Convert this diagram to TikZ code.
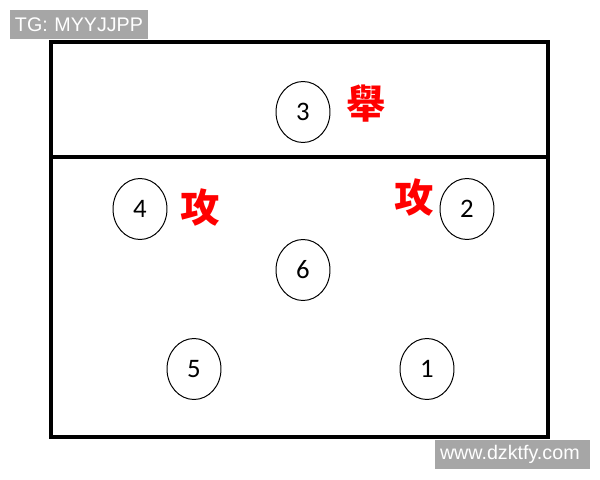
\documentclass[tikz,border=0pt]{standalone}
\usepackage{fontspec}
\setmainfont{Liberation Sans}
\newfontfamily\numfont{Carlito}
\newfontfamily\cjk{Noto Sans CJK TC}
\usepackage{tikz}
\usetikzlibrary{shapes.geometric}

\begin{document}
\begin{tikzpicture}
            [x=0.025cm, y=-0.025cm, semithick,
             player/.style={shape=ellipse, draw=black, line width=0.7pt, minimum width=54*0.025cm, minimum height=61*0.025cm, inner sep=0pt, font=\numfont\fontsize{19}{19}\selectfont},
             role/.style={text=red, font=\cjk\bfseries\fontsize{28}{28}\selectfont, inner sep=0pt},
             tag/.style={fill=black!35, text=white, inner xsep=0.125cm, inner ysep=0pt, align=left, font=\fontsize{14}{14}\selectfont}]
            \useasboundingbox (0, 0) rectangle (600, 480);
            \fill[white] (0, 0) rectangle (600, 480);

            % court
            \draw[line width=2.6pt] (51, 42) rectangle (548, 437);
            \coordinate (netl) at (51, 157);
            \coordinate (netr) at (548, 157);
            \draw[line width=2.2pt] (netl) -- (netr);

            % players
            \node[player] (p3) at (303, 112) {3};
            \node[player] (p4) at (140, 209) {4};
            \node[player] (p2) at (467, 209) {2};
            \node[player] (p6) at (303, 270) {6};
            \node[player] (p5) at (194, 369) {5};
            \node[player] (p1) at (427, 369) {1};

            \node[role] (set) at (366, 104) {舉};
            \node[role] (atk4) at (200, 207) {攻};
            \node[role] (atk2) at (414, 197) {攻};

            % labels
            \node[tag, text width=128*0.025cm, minimum height=29*0.025cm] (tg) at (79, 24.5) {TG: MYYJJPP};
            \node[tag, text width=145*0.025cm, minimum height=29*0.025cm] (www) at (512.5, 454.5) {www.dzktfy.com};
        \end{tikzpicture}
\end{document}
